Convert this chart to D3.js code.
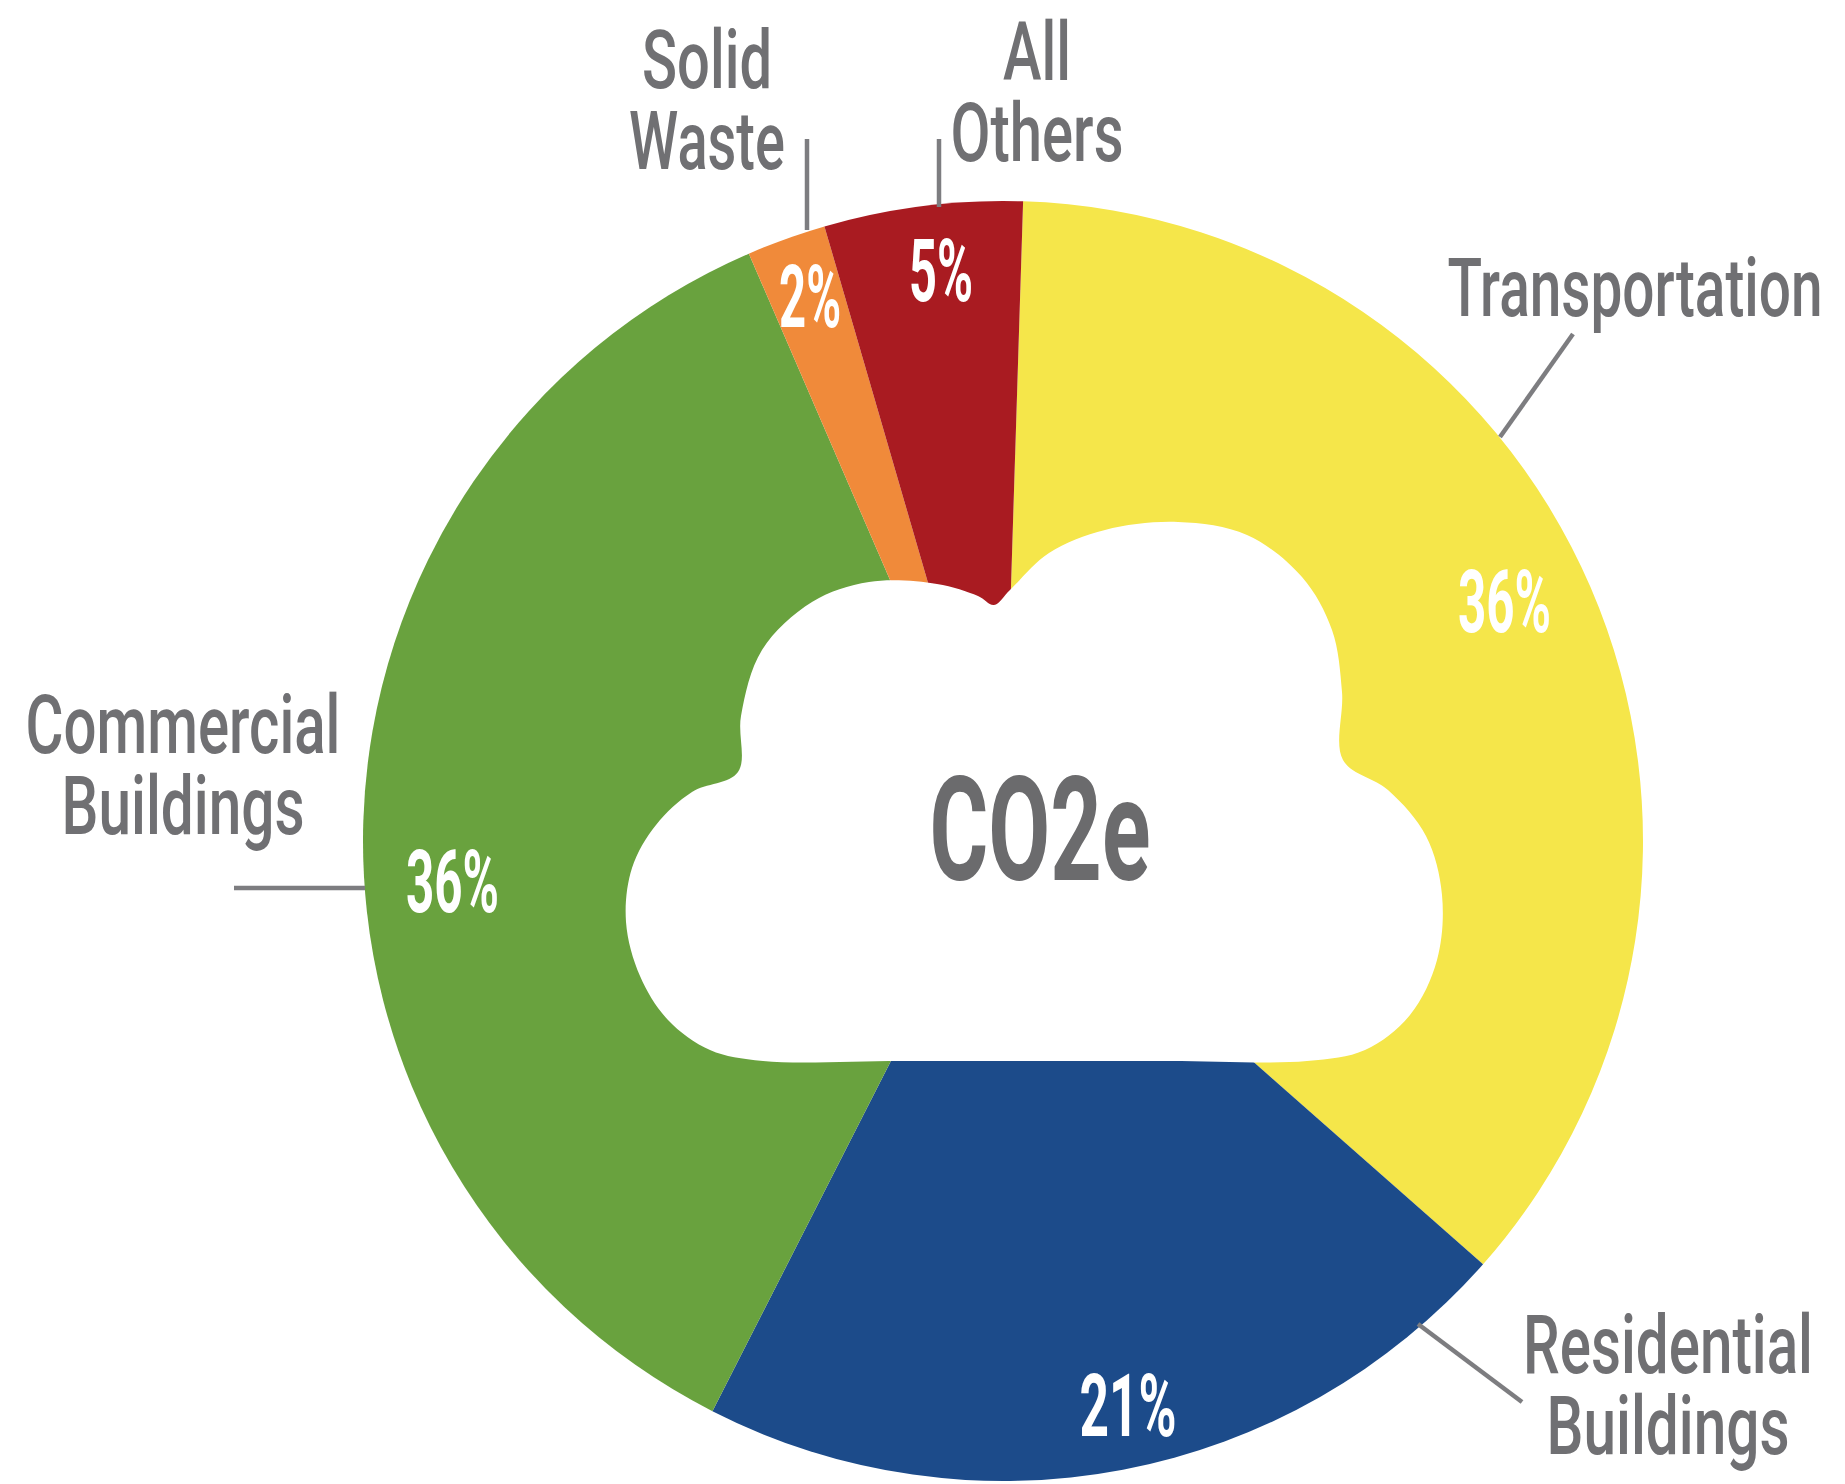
<!DOCTYPE html>
<html>
<head>
<meta charset="utf-8">
<script src="https://cdn.jsdelivr.net/npm/d3@7"></script>
<style>
  html, body { margin: 0; padding: 0; background: #ffffff; }
  svg { display: block; }
  text { font-family: Roboto, "DejaVu Sans", sans-serif; }
</style>
</head>
<body>
<div id="chart"></div>
<script>
// data, clockwise from 12 o'clock
const categories = ["Transportation", "Residential Buildings", "Commercial Buildings", "Solid Waste", "All Others"];
const shares = [36, 21, 36, 2, 5];
const shareLabels = ["36%", "21%", "36%", "2%", "5%"];
const centerLabel = "CO2e";

const width = 1845, height = 1484;
const cx = 1003, cy = 841, radius = 640;
const startOffset = 1.8 * Math.PI / 180;   // pie is turned a little clockwise

const color = d3.scaleOrdinal()
    .domain(categories)
    .range(["#f5e64a", "#1c4b8a", "#69a23e", "#f08a3a", "#a91b21"]);

const textGray = "#707073", lineGray = "#7d7d80";

// where each outside label sits (middle x, first baseline, widths per line) and its leader
const labelLayout = {
    "Transportation":        { x: 1635, y: 316, widths: [375],      line: [[1500, 437], [1573, 334]] },
    "Residential Buildings": { x: 1668, y: 1373, widths: [290, 243], line: [[1418, 1324], [1522, 1402]] },
    "Commercial Buildings":  { x: 183,  y: 753, widths: [315, 243], line: [[234, 888], [365, 888]] },
    "Solid Waste":           { x: 707,  y: 88,  widths: [130, 156], line: [[807, 139], [807, 230]] },
    "All Others":            { x: 1037, y: 80,  widths: [68, 173],  line: [[939, 139], [939, 207]] }
};
// small hand nudges of the percentage labels (degrees, radius)
const pctPlacement = {
    "Transportation":        { turn: -2.2, r: 556 },
    "Residential Buildings": { turn: -1.7, r: 578 },
    "Commercial Buildings":  { turn: -6.0, r: 552 },
    "Solid Waste":           { turn: 0.3,  r: 578 },
    "All Others":            { turn: 1.0,  r: 574 }
};
const pctWidths = { "36%": 93, "21%": 97, "5%": 64, "2%": 62 };

const svg = d3.select("#chart")
    .append("svg")
    .attr("width", width)
    .attr("height", height);

// condensed look: squeeze each text to the width seen in the picture
function condensed(sel, x, y, w) {
    const natural = sel.node().getComputedTextLength();
    sel.attr("transform", `translate(${x},${y}) scale(${w / natural},1)`);
}

const pie = d3.pie()
    .sort(null)
    .value(d => d)
    .startAngle(startOffset)
    .endAngle(startOffset + 2 * Math.PI);

const arcs = pie(shares);

const arc = d3.arc()
    .innerRadius(0)
    .outerRadius(radius);

let g = svg.append("g")
    .attr("transform", `translate(${cx},${cy})`);

g.selectAll("path.slice")
    .data(arcs)
    .enter().append("path")
    .attr("class", "slice")
    .attr("d", arc)
    .attr("fill", (d, i) => color(categories[i]));

// cloud in the middle (decoration)
const cloudOutline = [
    [763, 1061], [710, 1050], [668, 1020], [640, 976], [626, 922], [632, 868], [656, 825], [692, 792], [738, 772],
    [741, 716], [762, 650], [812, 602], [869, 582], [937, 584], [978, 596], [994, 605],
    [1010, 590], [1049, 553], [1105, 530], [1178, 522], [1247, 535], [1302, 577], [1332, 630], [1342, 692], [1343, 760],
    [1388, 790], [1426, 836], [1442, 895], [1437, 960], [1410, 1015], [1365, 1050], [1307, 1061],
    [1170, 1061], [1035, 1061], [900, 1061]
];
svg.append("path")
    .attr("d", d3.line().curve(d3.curveCatmullRomClosed.alpha(0.5))(cloudOutline))
    .attr("fill", "#ffffff");

svg.append("text")
    .attr("text-anchor", "middle")
    .attr("font-size", 145)
    .attr("font-weight", 700)
    .attr("fill", "#6b6b6d")
    .text(centerLabel)
    .call(condensed, 1040, 880, 221);

// percentages inside slices
arcs.forEach((d, i) => {
    const p = pctPlacement[categories[i]];
    const a = (d.startAngle + d.endAngle) / 2 + p.turn * Math.PI / 180;
    g.append("text")
        .attr("class", "pct")
        .attr("text-anchor", "middle")
        .attr("font-size", 87)
        .attr("font-weight", 700)
        .attr("fill", "#ffffff")
        .text(shareLabels[i])
        .call(condensed, p.r * Math.sin(a), -p.r * Math.cos(a) + 31, pctWidths[shareLabels[i]]);
});

// leader lines
svg.selectAll("line.leader")
    .data(categories)
    .enter().append("line")
    .attr("class", "leader")
    .attr("x1", d => labelLayout[d].line[0][0])
    .attr("y1", d => labelLayout[d].line[0][1])
    .attr("x2", d => labelLayout[d].line[1][0])
    .attr("y2", d => labelLayout[d].line[1][1])
    .attr("stroke", lineGray)
    .attr("stroke-width", 4.5);

// category names
categories.forEach(c => {
    const lay = labelLayout[c];
    c.split(" ").forEach((word, j) => {
        svg.append("text")
            .attr("text-anchor", "middle")
            .attr("font-size", 82)
            .attr("font-weight", 500)
            .attr("fill", textGray)
            .text(word)
            .call(condensed, lay.x, lay.y + j * 81, lay.widths[j]);
    });
});
</script>
</body>
</html>
